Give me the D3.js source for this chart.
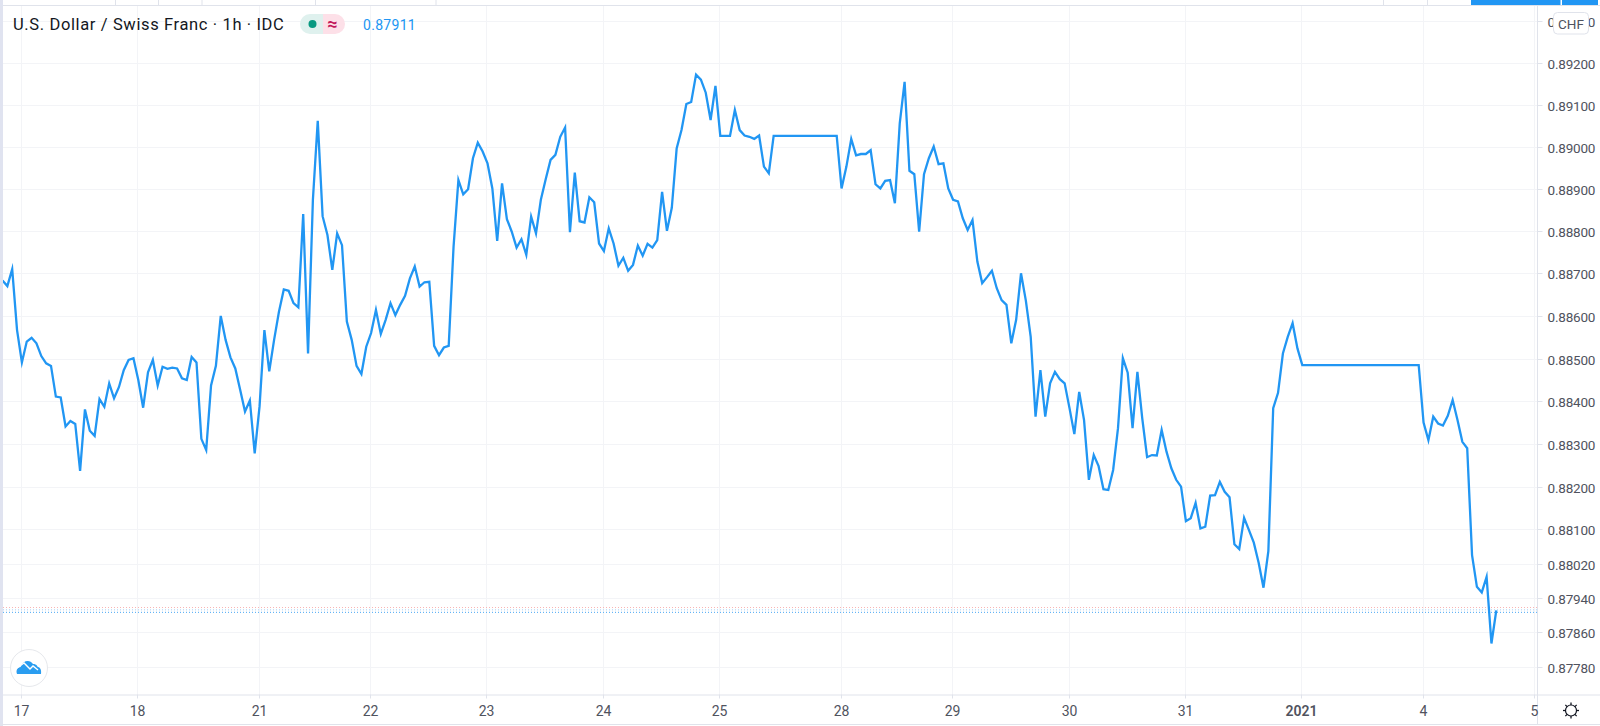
<!DOCTYPE html>
<html><head><meta charset="utf-8">
<script src="https://cdnjs.cloudflare.com/ajax/libs/d3/7.8.5/d3.min.js"></script>
<style>
html,body{margin:0;padding:0;background:#fff;overflow:hidden}
svg{display:block}
text{font-family:Roboto,"Open Sans",sans-serif}
</style></head><body>
<svg id="c" width="1600" height="726"></svg>
<script>
const title = "U.S. Dollar / Swiss Franc · 1h · IDC";
const lastPrice = "0.87911";
const currency = "CHF";
const dayLabels = ["17","18","21","22","23","24","25","28","29","30","31","2021","4","5"];
const dayBarIndex = [4,28,53,76,100,124,148,173,196,220,244,268,293,316];
const priceTicks = [0.893,0.892,0.891,0.89,0.889,0.888,0.887,0.886,0.885,0.884,0.883,0.882,0.881,0.8802,0.8794,0.8786,0.8778];
const priceLines = [0.87976,0.87971,0.87967,0.87963];
const prices = [
0.88683,0.88670,0.88710,0.88567,0.88491,0.88540,0.88549,0.88536,0.88506,0.88489,
0.88483,0.88411,0.88409,0.88341,0.88354,0.88347,0.88237,0.88381,0.88331,0.88319,
0.88405,0.88387,0.88442,0.88407,0.88433,0.88473,0.88497,0.88501,0.88450,0.88385,
0.88468,0.88497,0.88437,0.88481,0.88476,0.88479,0.88477,0.88454,0.88450,0.88504,
0.88491,0.88312,0.88286,0.88437,0.88483,0.88600,0.88544,0.88503,0.88477,0.88427,
0.88376,0.88402,0.88278,0.88388,0.88567,0.88470,0.88544,0.88610,0.88662,0.88659,
0.88630,0.88620,0.88841,0.88512,0.88875,0.89063,0.88836,0.88791,0.88708,0.88795,
0.88767,0.88587,0.88544,0.88483,0.88464,0.88528,0.88560,0.88614,0.88558,0.88591,
0.88630,0.88602,0.88626,0.88647,0.88688,0.88716,0.88669,0.88679,0.88680,0.88530,
0.88508,0.88526,0.88530,0.88763,0.88922,0.88888,0.88900,0.88974,0.89011,0.88990,
0.88962,0.88902,0.88777,0.88914,0.88829,0.88799,0.88761,0.88781,0.88744,0.88835,
0.88795,0.88875,0.88924,0.88970,0.88982,0.89025,0.89047,0.88798,0.88940,0.88824,
0.88821,0.88881,0.88869,0.88771,0.88753,0.88807,0.88771,0.88718,0.88737,0.88706,
0.88720,0.88766,0.88742,0.88770,0.88761,0.88779,0.88894,0.88801,0.88856,0.88997,
0.89041,0.89103,0.89108,0.89173,0.89161,0.89130,0.89065,0.89146,0.89027,0.89027,
0.89027,0.89089,0.89041,0.89028,0.89025,0.89020,0.89028,0.88954,0.88938,0.89027,
0.89027,0.89027,0.89027,0.89027,0.89027,0.89027,0.89027,0.89027,0.89027,0.89027,
0.89027,0.89027,0.89027,0.88902,0.88954,0.89020,0.88981,0.88984,0.88984,0.88993,
0.88912,0.88902,0.88920,0.88922,0.88867,0.89057,0.89156,0.88944,0.88936,0.88799,
0.88936,0.88974,0.89002,0.88960,0.88962,0.88902,0.88875,0.88871,0.88831,0.88803,
0.88827,0.88728,0.88677,0.88691,0.88706,0.88665,0.88637,0.88626,0.88536,0.88591,
0.88700,0.88636,0.88551,0.88364,0.88473,0.88364,0.88442,0.88469,0.88452,0.88442,
0.88384,0.88323,0.88422,0.88356,0.88216,0.88274,0.88248,0.88194,0.88192,0.88239,
0.88337,0.88501,0.88467,0.88337,0.88469,0.88360,0.88269,0.88274,0.88273,0.88333,
0.88282,0.88243,0.88216,0.88200,0.88119,0.88126,0.88162,0.88102,0.88106,0.88179,
0.88180,0.88211,0.88188,0.88175,0.88065,0.88054,0.88127,0.88098,0.88069,0.88022,
0.87964,0.88049,0.88384,0.88420,0.88512,0.88551,0.88583,0.88524,0.88485,0.88485,
0.88485,0.88485,0.88485,0.88485,0.88485,0.88485,0.88485,0.88485,0.88485,0.88485,
0.88485,0.88485,0.88485,0.88485,0.88485,0.88485,0.88485,0.88485,0.88485,0.88485,
0.88485,0.88485,0.88485,0.88350,0.88309,0.88364,0.88348,0.88343,0.88366,0.88403,
0.88356,0.88305,0.88290,0.88040,0.87966,0.87953,0.87989,0.87834,0.87911
];

const svg = d3.select("#c");
const W = 1600, H = 726;
const paneL = 3, paneR = 1537.5, paneT = 6, paneB = 694.5;

const x = d3.scaleLinear().domain([0, 308]).range([2.5, 1496.3]);
const y = d3.scaleLinear().domain([0.8778,0.881,0.887,0.892,0.893]).range([666.7,529.3,273.3,63.3,21.3]);

const gridC = "#f3f4f7", borderC = "#e0e3eb", textC = "#50535e";

// outer frame
const frame = svg.append("g");
frame.append("rect").attr("x",0).attr("y",0).attr("width",W).attr("height",H).attr("fill","#fff");
[115,158,201.5,315,435.5,1383,1427].forEach(px=>frame.append("line").attr("x1",px+.5).attr("x2",px+.5).attr("y1",0).attr("y2",paneT).attr("stroke",borderC));
frame.append("rect").attr("x",1471).attr("y",0).attr("width",89.5).attr("height",5).attr("fill","#2196f3");
frame.append("rect").attr("x",1562).attr("y",0).attr("width",36).attr("height",5).attr("fill","#2196f3");

// grid
const grid = svg.append("g");
grid.selectAll(".h").data(priceTicks).join("line").attr("class","h")
  .attr("x1",paneL).attr("x2",paneR)
  .attr("y1",d=>Math.round(y(d))+.5).attr("y2",d=>Math.round(y(d))+.5).attr("stroke",gridC);
grid.selectAll(".v").data(dayBarIndex).join("line").attr("class","v")
  .attr("x1",d=>Math.round(x(d))-.5).attr("x2",d=>Math.round(x(d))-.5)
  .attr("y1",paneT).attr("y2",paneB).attr("stroke",gridC);

// price lines (dotted)
const dotCols = ["#f7b5b5","#c4e0f9","#c4e0f9","#64b5f6"];
svg.append("g").selectAll("line").data(priceLines).join("line")
  .attr("x1",paneL).attr("x2",paneR)
  .attr("y1",(d,i)=>607.5+[0,2,3.5,5][i]).attr("y2",(d,i)=>607.5+[0,2,3.5,5][i])
  .attr("stroke",(d,i)=>dotCols[i]).attr("stroke-width",1).attr("stroke-dasharray","1 2");

// series
svg.append("path").datum(prices)
  .attr("d", d3.line().x((d,i)=>x(i)).y(d=>y(d)))
  .attr("fill","none").attr("stroke","#2196f3").attr("stroke-width",2.3)
  .attr("stroke-linejoin","miter").attr("stroke-miterlimit",6);

// pane borders
frame.append("line").attr("x1",0).attr("x2",W).attr("y1",5.5).attr("y2",5.5).attr("stroke",borderC);
svg.append("rect").attr("x",0).attr("y",0).attr("width",3).attr("height",H).attr("fill","#e0e3f0");
svg.append("line").attr("x1",paneR).attr("x2",paneR).attr("y1",paneT).attr("y2",H-2).attr("stroke",borderC);
svg.append("line").attr("x1",paneL).attr("x2",W).attr("y1",paneB+.5).attr("y2",paneB+.5).attr("stroke",borderC);
svg.append("line").attr("x1",0).attr("x2",W).attr("y1",H-1.5).attr("y2",H-1.5).attr("stroke",borderC);

// right axis
const yAxis = svg.append("g");
const fmt = d3.format(".5f");
const yt = yAxis.selectAll("g").data(priceTicks).join("g").attr("transform",d=>`translate(0,${Math.round(y(d))+.5})`);
yt.append("line").attr("x1",paneR).attr("x2",paneR+5).attr("stroke",borderC);
yt.append("text").attr("x",1547.5).attr("y",5).attr("font-size",13.5).attr("fill",textC).attr("letter-spacing","-.2").text(d=>fmt(d));

// bottom axis
const xAxis = svg.append("g");
const xt = xAxis.selectAll("g").data(dayBarIndex).join("g").attr("transform",d=>`translate(${Math.round(x(d))-.5},0)`);
xt.append("line").attr("y1",paneB).attr("y2",paneB+4).attr("stroke",borderC);
xt.append("text").attr("y",716).attr("text-anchor","middle").attr("font-size",14)
  .attr("font-weight",(d,i)=>dayLabels[i]==="2021"?600:400).attr("fill",textC)
  .text((d,i)=>dayLabels[i]);

// currency badge
svg.append("rect").attr("x",1553.5).attr("y",12.5).attr("width",35).attr("height",21.5).attr("rx",4)
  .attr("fill","#fff").attr("stroke",borderC);
svg.append("text").attr("x",1571).attr("y",29).attr("text-anchor","middle").attr("font-size",13.5).attr("fill",textC).text(currency);

// legend
svg.append("text").attr("x",13).attr("y",30).attr("font-size",16.5).attr("letter-spacing",".63").attr("fill","#131722").text(title);
const badge = svg.append("g");
badge.append("path").attr("d","M323 14H310a10 10 0 0 0 0 20H323Z").attr("fill","#dff1ee");
badge.append("path").attr("d","M323 14H335a10 10 0 0 1 0 20H323Z").attr("fill","#fde0e8");
badge.append("circle").attr("cx",312.5).attr("cy",24).attr("r",4).attr("fill","#089981");
badge.append("text").attr("x",332.5).attr("y",29.5).attr("text-anchor","middle").attr("font-size",18).attr("font-weight",700).attr("fill","#c2185b").text("≈");
svg.append("text").attr("x",363).attr("y",30).attr("font-size",14).attr("letter-spacing",".3").attr("fill","#2196f3").text(lastPrice);

// logo
const logo = svg.append("g").attr("transform","translate(29,668)");
logo.append("circle").attr("r",18.5).attr("fill","#fff").attr("stroke","#e6e8ec").attr("stroke-width",1);
logo.append("path").attr("d","M-12 6C-13.5 2-11 -1-8.5 -1C-6 -8 1 -8.5 4 -4C8 -4 8 -1.5 9 -1C12 -0.5 12.5 3.5 12 6Z").attr("fill","#2a9df0");
logo.append("path").attr("d","M-12 0L-5 -5L1 1L4 -2L9 2").attr("fill","none").attr("stroke","#fff").attr("stroke-width",1.4);

// settings gear
const gear = svg.append("g").attr("transform","translate(1571,710.5)");
gear.append("circle").attr("r",5.5).attr("fill","none").attr("stroke","#131722").attr("stroke-width",1.2);
d3.range(8).forEach(k=>{
  const a=k*Math.PI/4;
  gear.append("line").attr("x1",Math.cos(a)*5.5).attr("y1",Math.sin(a)*5.5)
    .attr("x2",Math.cos(a)*8).attr("y2",Math.sin(a)*8).attr("stroke","#131722").attr("stroke-width",1.3);
});
</script>
</body></html>
